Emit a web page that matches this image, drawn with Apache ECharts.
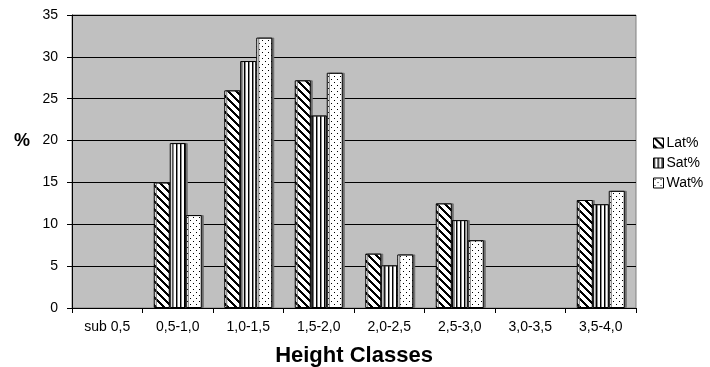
<!DOCTYPE html>
<html>
<head>
<meta charset="utf-8">
<script src="https://cdn.jsdelivr.net/npm/echarts@6/dist/echarts.min.js"></script>
<style>
  html, body { margin: 0; padding: 0; background: #ffffff; }
  #chart { width: 710px; height: 367px; }
</style>
</head>
<body>
<div id="chart"></div>
<script>
// Height class distribution (%)
const categories = ['sub 0,5', '0,5-1,0', '1,0-1,5', '1,5-2,0', '2,0-2,5', '2,5-3,0', '3,0-3,5', '3,5-4,0'];
const latValues = [null, 15.0, 26.0, 27.2, 6.5, 12.5, null, 12.9];
const satValues = [null, 19.7, 29.5, 23.0, 5.1, 10.5, null, 12.4];
const watValues = [null, 11.1, 32.3, 28.1, 6.4, 8.1, null, 14.0];
const seriesNames = ['Lat%', 'Sat%', 'Wat%'];
const yTicks = [0, 5, 10, 15, 20, 25, 30, 35];
const yUnitLabel = '%';
const yUnitLevel = 20; // the unit sign sits beside this tick

// Hatch fills drawn on small tiles
function makeTile(w, h, paint) {
  const c = document.createElement('canvas');
  c.width = w; c.height = h;
  const ctx = c.getContext('2d');
  ctx.fillStyle = '#ffffff';
  ctx.fillRect(0, 0, w, h);
  ctx.fillStyle = '#000000';
  paint(ctx, w, h);
  return { image: c, repeat: 'repeat' };
}
const diagFill = makeTile(8, 8, (ctx, w, h) => {
  for (let y = 0; y < h; y++) {
    for (let x = 0; x < w; x++) {
      if ((((x - y) % 8) + 8) % 8 < 3) ctx.fillRect(x, y, 1, 1);
    }
  }
});
const vertFill = makeTile(4, 4, (ctx) => {
  ctx.fillRect(0, 0, 1, 4);
  ctx.fillStyle = '#8a8a8a';
  ctx.fillRect(1, 0, 1, 4);
});
const dotFill = makeTile(6, 6, (ctx) => {
  ctx.fillRect(1, 1, 1, 1);
  ctx.fillRect(4, 4, 1, 1);
});
const fills = [diagFill, vertFill, dotFill];
const valueSets = [latValues, satValues, watValues];

const chart = echarts.init(document.getElementById('chart'), null, { renderer: 'canvas' });

const series = seriesNames.map((name, i) => ({
  name: name,
  type: 'bar',
  data: valueSets[i],
  barWidth: 16,
  barGap: '0%',
  itemStyle: {
    color: fills[i],
    borderColor: '#000000',
    borderWidth: 1,
    shadowColor: '#707070',
    shadowOffsetX: 2,
    shadowOffsetY: 0,
    shadowBlur: 0
  },
  emphasis: { disabled: true }
}));

chart.setOption({
  animation: false,
  backgroundColor: '#ffffff',
  grid: {
    left: 72, right: 74, top: 15, bottom: 59,
    outerBoundsMode: 'none',
    containLabel: false,
    show: true,
    backgroundColor: '#c0c0c0',
    borderColor: '#808080',
    borderWidth: 1
  },
  legend: {
    orient: 'vertical',
    left: 648,
    top: 131,
    itemWidth: 10,
    itemHeight: 10,
    itemGap: 6,
    icon: 'rect',
    textStyle: { fontFamily: 'Liberation Sans', fontSize: 14, color: '#000000', padding: [0, 0, 0, -2] },
    data: seriesNames.map((n, i) => ({ name: n, itemStyle: { color: fills[i], borderColor: '#000', borderWidth: 1, shadowBlur: 0, shadowOffsetX: 0 } }))
  },
  xAxis: {
    type: 'category',
    data: categories,
    name: 'Height Classes',
    nameLocation: 'middle',
    nameGap: 37,
    nameTextStyle: { fontFamily: 'Liberation Sans', fontWeight: 'bold', fontSize: 22, color: '#000000' },
    axisLine: { lineStyle: { color: '#000000', width: 1 } },
    axisTick: { show: true, length: 5, lineStyle: { color: '#000000' } },
    axisLabel: { fontFamily: 'Liberation Sans', fontSize: 14, color: '#000000', margin: 12, interval: 0 }
  },
  yAxis: {
    type: 'value',
    min: yTicks[0],
    max: yTicks[yTicks.length - 1],
    interval: 5,
    axisLine: { show: true, lineStyle: { color: '#000000', width: 1 } },
    axisTick: { show: true, length: 5, lineStyle: { color: '#000000' } },
    axisLabel: { fontFamily: 'Liberation Sans', fontSize: 14, color: '#000000', margin: 14 },
    splitLine: { show: true, lineStyle: { color: '#000000', width: 1 } }
  },
  series: series
});

// Unit sign for the value axis, placed level with its tick
const unitY = chart.convertToPixel({ yAxisIndex: 0 }, yUnitLevel);
chart.setOption({
  graphic: [{
    type: 'text',
    x: 22,
    y: unitY,
    style: {
      text: yUnitLabel,
      font: 'bold 18px "Liberation Sans"',
      fill: '#000000',
      align: 'center',
      verticalAlign: 'middle'
    }
  }]
});
</script>
</body>
</html>
